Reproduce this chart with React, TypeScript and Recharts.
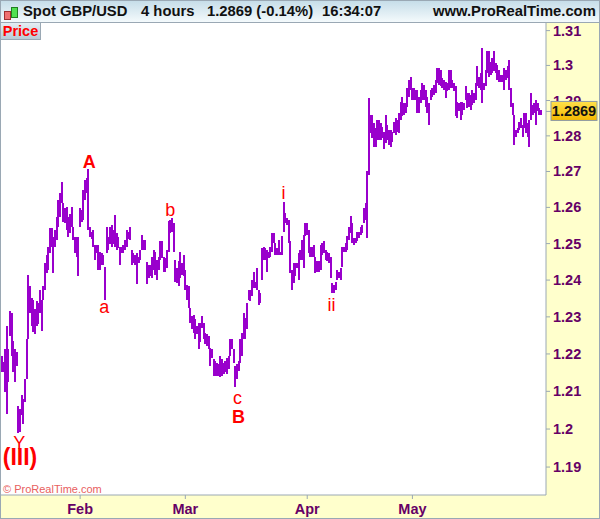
import React from "react";
import { ComposedChart, Bar, XAxis, YAxis, CartesianGrid, ReferenceDot } from "recharts";

const SANS = "'Liberation Sans', Arial, sans-serif";
const PURPLE = "#9900CC";
const AXIS = "#9AA8B4";
const TICKTEXT = "#660066";

const highs = [
  1.2195,1.2178,1.2213,1.2276,1.2213,1.2315,1.2311,1.2236,1.2213,1.2204,1.2062,1.2054,1.2089,1.2080,1.2133,1.2240,1.2414,1.2383,1.2351,1.2347,
  1.2320,1.2342,1.2338,1.2374,1.2347,1.2383,1.2446,1.2469,1.2491,1.2542,1.2542,1.2519,1.2537,1.2574,1.2620,1.2639,1.2671,1.2611,1.2597,1.2602,
  1.2574,1.2583,1.2602,1.2546,1.2519,1.2519,1.2519,1.2597,1.2592,1.2648,1.2676,1.2681,1.2706,1.2546,1.2532,1.2537,1.2496,1.2496,1.2496,1.2478,
  1.2473,1.2469,1.2437,1.2546,1.2519,1.2546,1.2551,1.2537,1.2579,1.2528,1.2519,1.2491,1.2491,1.2496,1.2510,1.2537,1.2532,1.2546,1.2482,1.2473,
  1.2469,1.2473,1.2464,1.2482,1.2523,1.2510,1.2510,1.2450,1.2441,
  1.2441,1.2464,1.2483,1.2478,1.2455,1.2464,1.2506,1.2506,1.2464,1.2460,1.2483,1.2561,1.2566,1.2570,1.2556,1.2455,1.2432,1.2451,1.2478,1.2446,
  1.2469,1.2428,1.2387,1.2383,1.2324,1.2302,1.2306,1.2293,1.2275,1.2284,1.2284,1.2302,1.2284,1.2257,1.2253,1.2248,1.2217,1.2213,1.2186,1.2181,
  1.2177,1.2173,1.2195,1.2186,1.2177,1.2181,1.2190,1.2195,1.2240,1.2240,1.2213,1.2168,1.2173,1.2181,1.2240,1.2257,1.2311,1.2297,1.2338,1.2374,
  1.2374,1.2401,1.2423,1.2396,1.2432,1.2374,1.2365,1.2487,1.2492,1.2487,1.2483,1.2478,1.2492,1.2529,1.2529,1.2501,1.2487,1.2510,1.2478,1.2520,
  1.2616,1.2584,1.2570,1.2566,1.2506,1.2428,1.2446,1.2446,1.2446,1.2474,1.2483,1.2510,1.2524,1.2556,1.2556,1.2538,1.2492,1.2492,1.2497,1.2464,
  1.2451,1.2451,1.2497,1.2501,1.2506,1.2483,1.2478,1.2474,1.2464,1.2392,1.2387,1.2396,1.2428,1.2423,1.2432,1.2492,1.2492,1.2501,1.2520,1.2547,
  1.2575,1.2556,1.2515,1.2515,1.2533,1.2533,1.2547,1.2552,1.2598,1.2612,1.2700,
  1.2907,1.2859,1.2859,1.2835,1.2821,1.2845,1.2845,1.2835,1.2826,1.2812,1.2859,1.2831,1.2816,1.2816,1.2812,1.2840,1.2850,1.2845,1.2864,1.2897,
  1.2911,1.2892,1.2892,1.2935,1.2959,1.2968,1.2935,1.2935,1.2931,1.2931,1.2911,1.2931,1.2950,1.2945,1.2931,1.2911,1.2892,1.2931,1.2935,1.2945,
  1.2959,1.2992,1.2992,1.2987,1.2964,1.2959,1.2954,1.2950,1.2987,1.2987,1.2959,1.2950,1.2940,1.2897,1.2892,1.2897,1.2897,1.2892,1.2940,1.2921,
  1.2921,1.2916,1.2931,1.2921,1.2950,1.2997,1.2968,1.2978,1.3049,1.2950,1.2987,1.3040,1.3040,1.3011,1.3021,1.3040,1.3007,1.3002,1.2987,1.2973,
  1.2973,1.2992,1.2987,1.2997,1.3016,1.2935,1.2892,1.2859,1.2816,1.2821,1.2840,1.2850,1.2831,1.2864,1.2864,1.2835,1.2845,1.2921,1.2888,1.2892,
  1.2902,1.2892,1.2878,1.2873,
];

const lows = [
  1.2151,1.2151,1.2098,1.2040,1.2124,1.2249,1.2195,1.2151,1.2124,1.2169,1.1989,1.1993,1.2036,1.2014,1.2071,1.2133,1.2240,1.2311,1.2276,1.2258,
  1.2254,1.2276,1.2280,1.2311,1.2262,1.2347,1.2374,1.2419,1.2428,1.2473,1.2491,1.2419,1.2491,1.2510,1.2546,1.2574,1.2611,1.2560,1.2556,1.2537,
  1.2519,1.2528,1.2546,1.2510,1.2473,1.2464,1.2410,1.2546,1.2560,1.2565,1.2620,1.2639,1.2537,1.2519,1.2514,1.2491,1.2455,1.2473,1.2428,1.2428,
  1.2441,1.2441,1.2347,1.2473,1.2482,1.2500,1.2491,1.2500,1.2491,1.2482,1.2487,1.2441,1.2473,1.2473,1.2482,1.2491,1.2514,1.2510,1.2441,1.2446,
  1.2441,1.2388,1.2446,1.2455,1.2482,1.2482,1.2482,1.2388,1.2405,
  1.2410,1.2405,1.2428,1.2414,1.2401,1.2428,1.2455,1.2460,1.2423,1.2423,1.2432,1.2478,1.2529,1.2533,1.2478,1.2396,1.2392,1.2383,1.2405,1.2414,
  1.2410,1.2374,1.2347,1.2324,1.2284,1.2266,1.2257,1.2240,1.2253,1.2213,1.2231,1.2271,1.2240,1.2226,1.2222,1.2213,1.2168,1.2190,1.2142,1.2142,
  1.2142,1.2142,1.2137,1.2142,1.2146,1.2151,1.2146,1.2159,1.2195,1.2213,1.2177,1.2111,1.2133,1.2155,1.2177,1.2195,1.2240,1.2240,1.2266,1.2347,
  1.2342,1.2356,1.2378,1.2378,1.2374,1.2333,1.2338,1.2401,1.2455,1.2455,1.2423,1.2460,1.2464,1.2478,1.2501,1.2469,1.2469,1.2469,1.2469,1.2469,
  1.2533,1.2556,1.2552,1.2501,1.2419,1.2374,1.2392,1.2410,1.2432,1.2401,1.2455,1.2455,1.2432,1.2520,1.2524,1.2474,1.2464,1.2464,1.2464,1.2419,
  1.2423,1.2423,1.2428,1.2469,1.2474,1.2455,1.2451,1.2446,1.2405,1.2365,1.2365,1.2374,1.2401,1.2405,1.2401,1.2437,1.2478,1.2478,1.2483,1.2510,
  1.2529,1.2501,1.2497,1.2501,1.2506,1.2515,1.2524,1.2529,1.2556,1.2566,1.2515,
  1.2690,1.2807,1.2793,1.2769,1.2769,1.2788,1.2788,1.2788,1.2793,1.2764,1.2779,1.2788,1.2774,1.2769,1.2783,1.2807,1.2802,1.2812,1.2807,1.2845,
  1.2855,1.2859,1.2864,1.2883,1.2911,1.2931,1.2902,1.2902,1.2902,1.2864,1.2864,1.2892,1.2902,1.2902,1.2883,1.2864,1.2831,1.2902,1.2911,1.2916,
  1.2921,1.2950,1.2945,1.2940,1.2935,1.2931,1.2907,1.2926,1.2931,1.2935,1.2935,1.2926,1.2855,1.2850,1.2869,1.2845,1.2859,1.2873,1.2902,1.2878,
  1.2883,1.2873,1.2888,1.2892,1.2902,1.2940,1.2935,1.2931,1.2892,1.2931,1.2940,1.2978,1.2968,1.2973,1.2978,1.2983,1.2978,1.2959,1.2954,1.2954,
  1.2954,1.2931,1.2959,1.2964,1.2931,1.2883,1.2859,1.2774,1.2797,1.2807,1.2816,1.2821,1.2797,1.2821,1.2807,1.2797,1.2769,1.2845,1.2859,1.2864,
  1.2831,1.2869,1.2859,1.2859,
];

const chartData = highs.map((h, i) => ({ bar: i + 1, range: [lows[i], h] }));

const priceTicks = [1.19, 1.2, 1.21, 1.22, 1.23, 1.24, 1.25, 1.26, 1.27, 1.28, 1.29, 1.3, 1.31];
const lastPrice = 1.2869;
const monthBars = [48, 111, 184, 247];
const monthNames = ["Feb", "Mar", "Apr", "May"];

const waveText = ["A", "a", "b", "c", "B", "i", "ii", "Y", "(III)"];
const waveBar = [53.4, 62.4, 102, 142.2, 142.8, 169.8, 198.6, 11.6, 12];
const wavePrice = [1.2729, 1.2327, 1.2593, 1.2082, 1.2032, 1.264, 1.2332, 1.1963, 1.1926];
const waveSize = [18, 18, 18, 18, 18, 18, 18, 18, 23];
const waveBold = [true, false, false, false, true, false, false, false, true];

function PriceTick(props: any) {
  const { x, y, payload } = props;
  const v = payload.value;
  if (v === lastPrice) {
    return (
      <g>
        <line x1={x} x2={x + 5} y1={y} y2={y} stroke={AXIS} />
        <rect x={x + 5} y={y - 10} width={46} height={19} fill="url(#gold)" stroke="#8d9aa5" />
        <text x={x + 28} y={y + 4.5} textAnchor="middle" fontFamily={SANS} fontWeight="bold" fontSize={14.5} fill="#111">
          {v.toFixed(4)}
        </text>
      </g>
    );
  }
  return (
    <g>
      <line x1={x} x2={x + 4} y1={y} y2={y} stroke={AXIS} />
      <text x={x + 7} y={y + 5} fontFamily={SANS} fontWeight="bold" fontSize={14.5} fill={TICKTEXT}>
        {String(v)}
      </text>
    </g>
  );
}

function MonthTick(props: any) {
  const { x, y, payload } = props;
  return (
    <g>
      <line x1={x} x2={x} y1={y} y2={y + 4} stroke={AXIS} />
      <text x={x} y={y + 19} textAnchor="middle" fontFamily={SANS} fontWeight="bold" fontSize={14.5} fill={TICKTEXT}>
        {monthNames[monthBars.indexOf(payload.value)]}
      </text>
    </g>
  );
}

function HiLo(props: any) {
  const { x, y, width, height } = props;
  return <rect x={x + width / 2 - 1} y={y} width={2} height={height} fill={PURPLE} shapeRendering="crispEdges" />;
}

const headerText: React.CSSProperties = {
  position: "absolute",
  top: 3,
  fontFamily: SANS,
  fontWeight: "bold",
  fontSize: 14.8,
  lineHeight: "17px",
  color: "#111",
  whiteSpace: "nowrap",
};

export default function App() {
  return (
    <div style={{ position: "absolute", left: 0, top: 0, width: 600, height: 519, background: "#FFFFCC", overflow: "hidden" }}>
      <ComposedChart
        width={600}
        height={519}
        data={chartData}
        margin={{ top: 23, right: 0, bottom: 0, left: 1 }}
        barCategoryGap={0}
      >
        <defs>
          <linearGradient id="gold" x1="0" y1="0" x2="0" y2="1">
            <stop offset="0" stopColor="#FFE04A" />
            <stop offset="1" stopColor="#F5B800" />
          </linearGradient>
        </defs>
        <CartesianGrid horizontal={false} vertical={false} fill="#FFFFFF" />
        <XAxis
          dataKey="bar"
          type="number"
          domain={[0.6, 327]}
          allowDataOverflow
          ticks={monthBars}
          height={24}
          axisLine={{ stroke: AXIS }}
          tickLine={false}
          tickSize={0}
          tickMargin={0}
          tick={<MonthTick />}
          interval={0}
        />
        <YAxis
          orientation="right"
          type="number"
          scale="log"
          domain={[1.1827, 1.3122]}
          allowDataOverflow
          ticks={[...priceTicks, lastPrice]}
          width={54}
          axisLine={{ stroke: AXIS }}
          tickLine={false}
          tickSize={0}
          tickMargin={0}
          tick={<PriceTick />}
          interval={0}
        />
        <Bar dataKey="range" fill={PURPLE} barSize={2} shape={<HiLo />} isAnimationActive={false} />
        {waveText.map((t, i) => (
          <ReferenceDot
            key={t}
            x={waveBar[i]}
            y={wavePrice[i]}
            r={0}
            stroke="none"
            ifOverflow="visible"
            label={{
              value: t,
              position: "center",
              fill: "#FF0000",
              fontSize: waveSize[i],
              fontWeight: waveBold[i] ? "bold" : "normal",
              fontFamily: SANS,
            }}
          />
        ))}
      </ComposedChart>

      <div style={{ position: "absolute", left: 0, top: 0, width: 600, height: 22, background: "linear-gradient(#C4DCE8, #F4FAFC)", borderBottom: "1px solid #9AA8B4", boxSizing: "content-box" }} />
      <div style={{ position: "absolute", left: 4, top: 11, width: 5, height: 7, background: "#F07070", border: "1px solid #A03030" }} />
      <div style={{ position: "absolute", left: 11, top: 7, width: 5, height: 9, background: "#50E050", border: "1px solid #208020" }} />
      <span style={{ ...headerText, left: 23 }}>Spot GBP/USD</span>
      <span style={{ ...headerText, left: 141 }}>4 hours</span>
      <span style={{ ...headerText, left: 207 }}>1.2869 (-0.14%)</span>
      <span style={{ ...headerText, left: 322 }}>16:34:07</span>
      <span style={{ ...headerText, left: 433 }}>www.ProRealTime.com</span>
      <div style={{ position: "absolute", left: 1, top: 23, width: 39, height: 16, background: "linear-gradient(#E4EEF4, #B8CBD6)", borderRight: "1px solid #9AA8B4", borderBottom: "1px solid #9AA8B4", fontFamily: SANS, fontWeight: "bold", fontSize: 14.5, lineHeight: "16px", color: "#FF0000", textAlign: "center" }}>
        Price
      </div>
      <div style={{ position: "absolute", left: 3, top: 483, fontFamily: SANS, fontSize: 11, lineHeight: "12px", color: "#E86060", whiteSpace: "nowrap" }}>
        © ProRealTime.com
      </div>
      <div style={{ position: "absolute", left: 0, top: 0, width: 600, height: 519, boxSizing: "border-box", border: "1px solid #9AA8B4", pointerEvents: "none" }} />
    </div>
  );
}
